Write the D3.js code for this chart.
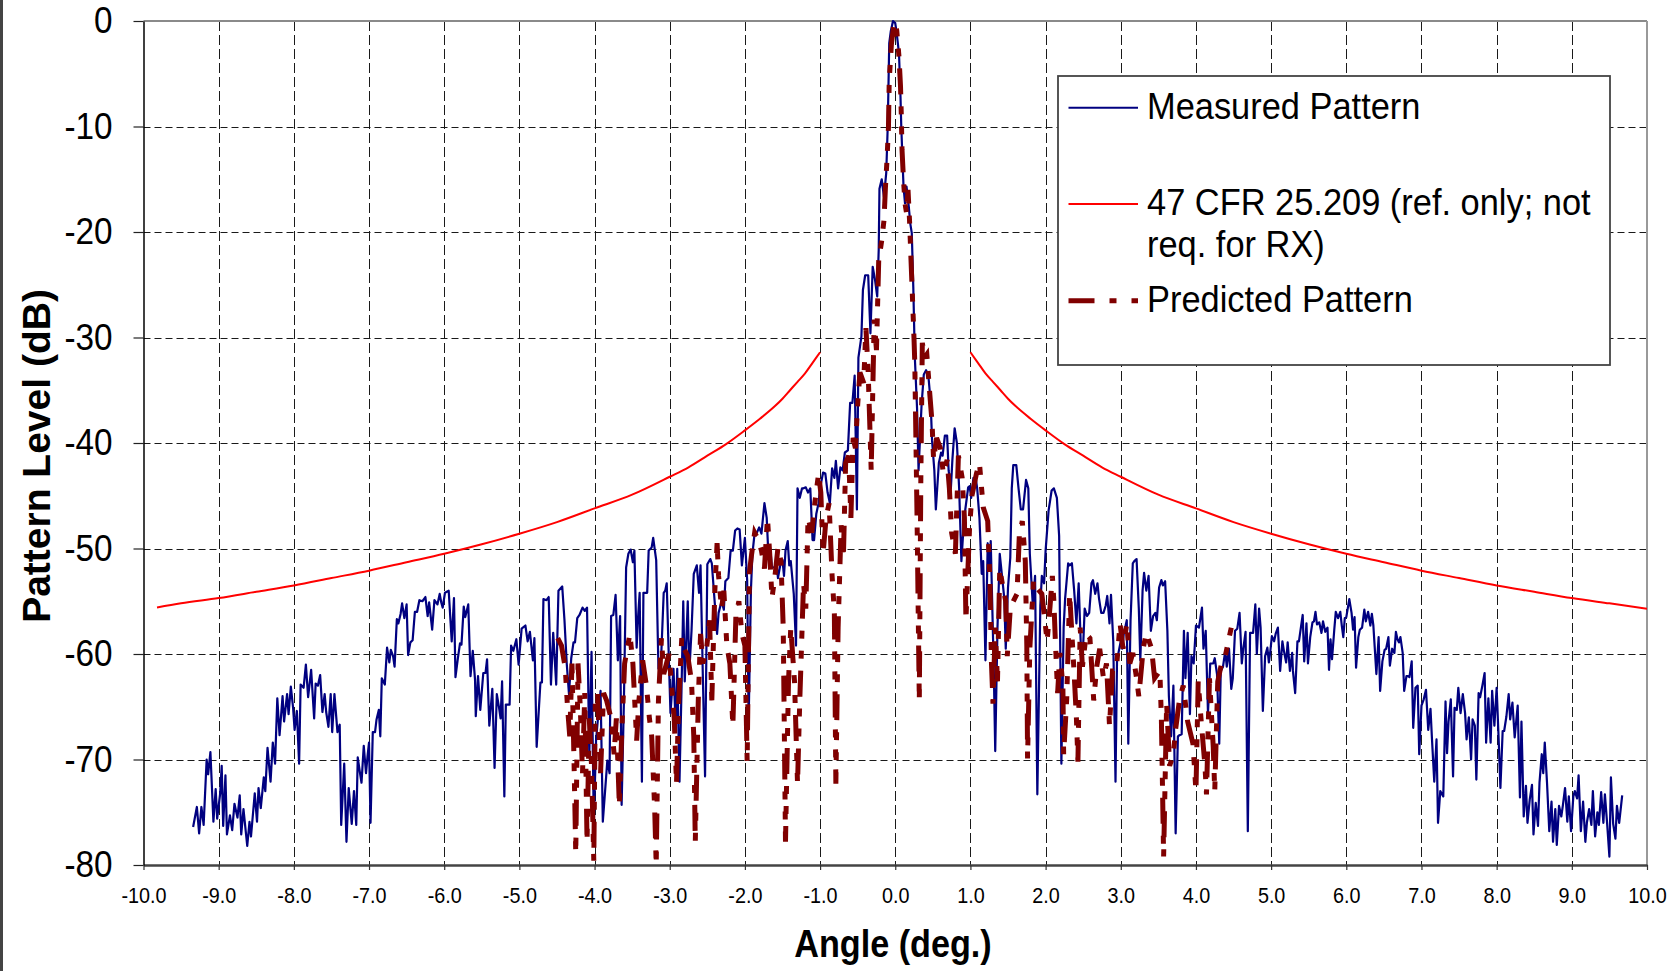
<!DOCTYPE html>
<html>
<head>
<meta charset="utf-8">
<script src="https://cdn.jsdelivr.net/npm/d3@7"></script>
<style>
body { margin: 0; background: #fff; }
svg { display: block; }
text { font-family: "Liberation Sans", Arial, sans-serif; fill: #000; }
</style>
</head>
<body>
<svg id="chart" width="1677" height="971"></svg>
<script>
// tick values
var xTicks = [-10,-9,-8,-7,-6,-5,-4,-3,-2,-1,0,1,2,3,4,5,6,7,8,9,10];
var yTicks = [0,-10,-20,-30,-40,-50,-60,-70,-80];

// measured pattern [angle deg, level dB]
var measuredPattern = [
	[-9.34,-76.4],[-9.29,-74.5],[-9.26,-77.0],[-9.23,-74.5],[-9.20,-76.2],[-9.16,-70.0],[-9.14,-71.4],[-9.11,-69.3],[-9.07,-75.9],[-9.04,-72.8],
	[-9.02,-75.6],[-8.98,-73.2],[-8.96,-70.6],[-8.94,-76.3],[-8.91,-71.5],[-8.89,-77.1],[-8.85,-75.3],[-8.82,-76.7],[-8.79,-74.2],[-8.75,-75.5],
	[-8.72,-73.4],[-8.70,-77.1],[-8.67,-74.7],[-8.62,-78.2],[-8.59,-75.9],[-8.57,-77.3],[-8.52,-73.2],[-8.49,-75.9],[-8.47,-72.7],[-8.44,-74.6],
	[-8.40,-71.7],[-8.38,-73.0],[-8.35,-68.9],[-8.31,-72.1],[-8.28,-68.4],[-8.25,-70.4],[-8.22,-64.2],[-8.19,-67.7],[-8.15,-64.0],[-8.13,-66.4],
	[-8.09,-63.8],[-8.07,-65.7],[-8.04,-63.1],[-8.01,-65.1],[-7.99,-67.2],[-7.96,-65.4],[-7.93,-70.4],[-7.91,-62.9],[-7.87,-63.2],[-7.84,-61.0],
	[-7.81,-64.1],[-7.77,-61.5],[-7.73,-66.1],[-7.71,-62.8],[-7.68,-63.0],[-7.65,-62.0],[-7.62,-65.5],[-7.59,-63.8],[-7.57,-65.5],[-7.54,-66.9],
	[-7.51,-63.8],[-7.49,-67.4],[-7.46,-63.8],[-7.42,-67.4],[-7.39,-66.7],[-7.37,-76.2],[-7.33,-70.4],[-7.30,-77.8],[-7.27,-72.7],[-7.23,-76.1],
	[-7.20,-73.0],[-7.17,-76.2],[-7.15,-69.8],[-7.12,-71.3],[-7.10,-72.2],[-7.07,-68.7],[-7.04,-71.3],[-7.02,-69.7],[-7.00,-68.4],[-6.98,-76.0],
	[-6.95,-67.4],[-6.92,-67.4],[-6.90,-66.2],[-6.87,-65.3],[-6.85,-67.8],[-6.83,-62.3],[-6.79,-62.9],[-6.76,-59.4],[-6.73,-60.8],[-6.71,-59.6],
	[-6.68,-60.2],[-6.66,-61.2],[-6.63,-56.7],[-6.61,-57.1],[-6.58,-56.2],[-6.56,-55.2],[-6.53,-56.6],[-6.50,-55.3],[-6.48,-60.1],[-6.45,-58.9],
	[-6.42,-58.7],[-6.39,-56.0],[-6.36,-56.0],[-6.33,-54.9],[-6.29,-55.0],[-6.25,-54.6],[-6.22,-56.4],[-6.20,-55.1],[-6.16,-57.7],[-6.13,-54.9],
	[-6.09,-55.3],[-6.06,-54.3],[-6.04,-55.1],[-6.02,-55.6],[-5.99,-54.2],[-5.94,-54.0],[-5.90,-58.8],[-5.87,-54.7],[-5.85,-62.2],[-5.82,-60.5],
	[-5.79,-59.0],[-5.77,-59.1],[-5.74,-55.5],[-5.72,-56.5],[-5.68,-55.3],[-5.65,-62.1],[-5.62,-59.7],[-5.59,-62.4],[-5.58,-65.9],[-5.55,-62.1],
	[-5.52,-65.3],[-5.48,-61.8],[-5.45,-61.8],[-5.43,-60.5],[-5.40,-66.8],[-5.36,-63.3],[-5.33,-70.8],[-5.30,-63.8],[-5.27,-65.1],[-5.25,-66.1],
	[-5.23,-62.6],[-5.20,-73.5],[-5.18,-64.8],[-5.13,-64.8],[-5.11,-59.2],[-5.08,-59.7],[-5.04,-58.6],[-5.01,-61.0],
	[-4.97,-57.6],[-4.92,-57.3],[-4.89,-58.8],[-4.86,-57.9],[-4.82,-60.6],[-4.80,-58.5],[-4.77,-68.8],[-4.72,-62.7],[-4.70,-62.7],[-4.68,-54.8],
	[-4.64,-54.9],[-4.61,-54.6],[-4.58,-62.9],[-4.55,-58.0],[-4.51,-62.9],[-4.48,-54.0],[-4.43,-53.6],[-4.40,-56.8],[-4.37,-60.9],[-4.34,-63.8],
	[-4.31,-60.4],[-4.28,-58.9],[-4.26,-58.9],[-4.23,-56.6],[-4.20,-56.3],[-4.16,-55.6],[-4.13,-55.9],[-4.10,-55.6],[-4.07,-69.5],[-4.04,-59.8],
	[-4.01,-76.1],[-3.98,-68.2],[-3.95,-65.7],[-3.92,-63.5],[-3.89,-75.9],[-3.86,-73.0],[-3.83,-70.1],[-3.80,-71.3],[-3.78,-56.4],[-3.75,-56.3],
	[-3.72,-54.4],[-3.69,-60.6],[-3.66,-56.4],[-3.64,-74.3],[-3.61,-64.7],[-3.58,-51.8],[-3.55,-50.5],[-3.52,-50.1],[-3.49,-51.3],[-3.47,-50.2],
	[-3.44,-59.4],[-3.42,-56.4],[-3.40,-54.2],[-3.37,-72.1],[-3.35,-54.2],[-3.30,-54.2],[-3.28,-50.2],[-3.24,-49.9],[-3.22,-49.0],[-3.18,-51.1],
	[-3.15,-61.4],[-3.12,-61.4],[-3.08,-54.2],[-3.06,-54.0],[-3.04,-53.3],[-3.01,-60.9],[-2.99,-65.6],[-2.95,-61.4],[-2.92,-66.9],[-2.90,-61.4],
	[-2.87,-72.1],[-2.84,-62.3],[-2.82,-55.0],[-2.80,-62.6],[-2.76,-55.0],[-2.74,-61.8],[-2.71,-57.8],[-2.68,-52.4],[-2.64,-51.6],[-2.61,-54.2],
	[-2.59,-51.6],[-2.56,-61.9],[-2.53,-71.6],[-2.50,-51.5],[-2.46,-51.0],[-2.44,-51.4],[-2.41,-54.3],[-2.37,-58.1],[-2.35,-56.1],[-2.31,-55.0],
	[-2.28,-55.8],[-2.26,-53.1],[-2.22,-52.8],[-2.19,-50.2],[-2.16,-50.2],[-2.13,-48.3],[-2.10,-48.1],[-2.07,-48.2],[-2.04,-51.6],[-2.00,-49.0],
	[-1.97,-53.0],[-1.95,-66.4],[-1.92,-54.0],[-1.90,-50.5],[-1.87,-48.5],[-1.84,-48.5],[-1.81,-48.0],[-1.78,-48.6],[-1.74,-45.7],[-1.71,-47.1],
	[-1.69,-50.2],[-1.66,-50.2],[-1.64,-51.8],[-1.61,-51.8],[-1.58,-51.4],[-1.56,-52.8],[-1.53,-51.6],[-1.50,-51.1],[-1.48,-52.6],[-1.46,-50.2],
	[-1.43,-49.3],[-1.41,-51.6],[-1.39,-51.2],[-1.35,-54.3],[-1.32,-59.2],[-1.30,-44.3],[-1.27,-45.2],[-1.24,-44.3],[-1.22,-44.3],[-1.19,-44.2],
	[-1.16,-44.7],[-1.13,-44.3],[-1.10,-49.2],[-1.08,-49.2],[-1.05,-46.7],[-1.02,-45.7],[-1.00,-44.3],[-0.96,-42.8],[-0.93,-42.9],[-0.90,-44.7],
	[-0.87,-45.7],[-0.84,-42.4],[-0.81,-43.3],[-0.79,-41.7],[-0.76,-44.3],[-0.73,-42.3],[-0.70,-42.6],[-0.67,-40.9],[-0.63,-40.7],[-0.60,-36.2],
	[-0.57,-36.2],[-0.54,-33.6],[-0.51,-46.3],[-0.49,-31.9],
	[-0.45,-29.9],[-0.43,-25.5],[-0.40,-24.1],[-0.36,-24.1],[-0.33,-29.6],[-0.30,-23.3],[-0.27,-24.5],[-0.24,-26.1],[-0.22,-21.7],[-0.21,-15.9],
	[-0.18,-15.0],[-0.15,-16.7],[-0.12,-14.4],[-0.10,-10.0],[-0.08,-2.1],[-0.06,-1.0],[-0.03,0.0],[0.00,-0.2],[0.02,-1.2],[0.05,-3.1],
	[0.07,-7.2],[0.08,-10.0],[0.11,-15.7],[0.13,-17.3],[0.15,-15.7],[0.18,-17.6],[0.20,-19.2],[0.22,-20.1],[0.24,-25.2],[0.26,-31.8],
	[0.29,-36.7],[0.31,-42.6],[0.33,-39.5],[0.35,-36.4],[0.38,-33.5],[0.41,-33.1],[0.44,-33.6],[0.47,-36.0],[0.49,-39.8],[0.52,-42.6],
	[0.54,-46.3],[0.58,-41.9],[0.61,-40.9],[0.63,-41.2],[0.66,-39.3],[0.69,-39.3],[0.71,-42.6],[0.74,-44.3],[0.76,-41.6],[0.79,-38.6],
	[0.82,-40.0],[0.85,-44.3],[0.88,-51.2],[0.91,-47.8],[0.93,-46.4],[0.97,-44.2],[0.99,-44.1],[1.01,-45.2],[1.04,-43.3],[1.07,-43.3],
	[1.09,-44.3],[1.12,-47.1],[1.15,-52.4],[1.17,-51.2],[1.20,-60.6],[1.23,-49.5],[1.25,-51.9],[1.27,-49.3],[1.31,-61.2],[1.33,-69.2],
	[1.36,-57.5],[1.39,-50.5],[1.42,-52.6],[1.45,-54.7],[1.47,-59.5],[1.50,-53.7],[1.53,-50.9],[1.55,-44.3],[1.57,-42.1],[1.61,-42.1],
	[1.64,-44.3],[1.67,-46.3],[1.70,-46.3],[1.74,-43.5],[1.77,-44.3],[1.79,-50.5],[1.83,-55.4],[1.86,-52.6],[1.89,-73.3],[1.93,-55.4],
	[1.95,-52.6],[1.98,-53.3],[2.00,-50.2],[2.04,-46.4],[2.08,-44.5],[2.11,-44.3],[2.15,-45.2],[2.18,-48.8],[2.21,-70.4],[2.24,-57.5],
	[2.26,-54.7],[2.30,-51.4],[2.32,-51.6],[2.35,-51.4],[2.38,-54.0],[2.41,-57.1],[2.44,-53.3],[2.47,-59.5],[2.49,-60.9],[2.52,-55.7],
	[2.55,-56.4],[2.58,-56.1],[2.61,-53.3],[2.63,-53.0],[2.66,-54.3],[2.69,-53.3],[2.71,-54.7],[2.74,-56.1],[2.77,-56.1],[2.80,-55.4],
	[2.82,-54.5],[2.85,-57.1],[2.87,-54.4],[2.90,-58.8],[2.93,-72.1],[2.95,-60.6],[2.98,-59.5],[3.00,-58.8],[3.02,-59.5],[3.04,-58.1],
	[3.08,-56.8],[3.10,-68.5],[3.13,-56.8],[3.16,-51.4],[3.18,-51.2],[3.21,-51.0],[3.24,-55.7],[3.26,-60.6],[3.29,-54.0],[3.31,-52.3],
	[3.34,-54.0],[3.37,-52.6],[3.40,-57.8],[3.43,-56.4],[3.46,-56.1],[3.48,-56.8],[3.51,-53.7],[3.54,-53.0],[3.56,-53.5],[3.59,-53.1],
	[3.62,-57.8],[3.64,-64.0],[3.67,-67.8],[3.70,-63.0],[3.73,-77.0],[3.76,-67.8],[3.78,-67.7],[3.81,-67.6],[3.84,-57.8],[3.86,-62.3],
	[3.89,-58.0],[3.92,-65.7],[3.94,-60.2],[3.97,-60.9],[4.00,-57.3],[4.04,-57.5],[4.08,-55.6],[4.10,-59.5],[4.13,-57.8],[4.16,-65.6],
	[4.19,-60.9],[4.23,-60.9],[4.25,-60.4],[4.28,-61.9],[4.31,-68.5],[4.33,-61.6],[4.36,-61.2],[4.39,-59.7],[4.41,-61.2],[4.44,-59.5],
	[4.47,-63.3],[4.49,-62.3],[4.52,-57.8],[4.55,-57.6],[4.58,-56.1],[4.61,-60.9],[4.63,-59.5],[4.66,-57.9],[4.69,-76.8],[4.72,-58.0],
	[4.76,-58.0],[4.79,-55.3],[4.81,-60.0],[4.84,-55.7],[4.86,-57.5],[4.89,-65.4],
	[4.92,-60.2],[4.95,-59.4],[4.97,-60.8],[4.99,-59.7],[5.01,-58.3],[5.04,-58.8],[5.06,-58.1],[5.09,-57.5],[5.12,-61.6],[5.15,-58.8],
	[5.17,-59.7],[5.20,-60.8],[5.22,-58.9],[5.25,-61.6],[5.28,-59.9],[5.29,-61.6],[5.32,-63.7],[5.35,-58.8],[5.37,-58.8],[5.40,-57.3],
	[5.42,-56.3],[5.44,-60.7],[5.47,-57.1],[5.49,-60.9],[5.52,-58.4],[5.55,-57.0],[5.57,-56.9],[5.59,-56.0],[5.61,-57.2],[5.64,-57.0],
	[5.67,-58.0],[5.69,-56.9],[5.72,-57.9],[5.75,-57.5],[5.77,-61.5],[5.79,-58.6],[5.81,-60.5],[5.84,-57.7],[5.86,-56.0],[5.89,-56.6],
	[5.92,-56.0],[5.94,-57.3],[5.96,-58.4],[5.98,-56.6],[6.00,-56.5],[6.04,-54.8],[6.07,-56.1],[6.09,-57.7],[6.11,-56.5],[6.13,-61.3],
	[6.16,-58.4],[6.18,-57.7],[6.21,-57.5],[6.24,-55.8],[6.26,-56.9],[6.29,-56.0],[6.32,-57.3],[6.34,-56.2],[6.36,-57.3],[6.40,-61.9],
	[6.43,-58.4],[6.45,-63.5],[6.48,-60.7],[6.51,-59.6],[6.53,-59.5],[6.56,-58.4],[6.58,-61.1],[6.61,-59.5],[6.64,-59.9],[6.66,-57.9],
	[6.68,-58.6],[6.70,-58.9],[6.72,-58.4],[6.75,-59.9],[6.77,-63.5],[6.80,-62.1],[6.82,-62.1],[6.84,-62.2],[6.87,-60.7],[6.89,-67.0],
	[6.92,-63.2],[6.95,-63.0],[6.97,-69.5],[7.00,-64.9],[7.03,-64.3],[7.06,-63.4],[7.09,-67.2],[7.12,-65.2],[7.14,-68.1],[7.17,-72.1],
	[7.20,-68.1],[7.22,-76.0],[7.25,-73.0],[7.29,-73.5],[7.32,-64.5],[7.34,-69.4],[7.36,-66.4],[7.39,-64.3],[7.42,-71.6],[7.44,-65.1],
	[7.47,-65.3],[7.49,-63.2],[7.52,-65.6],[7.55,-63.8],[7.58,-65.6],[7.60,-68.1],[7.63,-66.0],[7.66,-70.0],[7.68,-66.2],[7.71,-66.8],
	[7.73,-71.9],[7.76,-63.7],[7.78,-64.1],[7.81,-63.0],[7.84,-61.8],[7.86,-68.4],[7.89,-64.2],[7.92,-68.4],[7.94,-63.5],[7.97,-66.8],
	[8.00,-63.2],[8.03,-68.7],[8.05,-72.7],[8.08,-67.3],[8.10,-67.3],[8.13,-65.9],[8.16,-63.8],[8.18,-66.2],[8.21,-64.6],[8.24,-67.9],
	[8.26,-66.4],[8.28,-64.9],[8.31,-73.6],[8.33,-66.4],[8.36,-75.4],[8.39,-72.5],[8.41,-76.0],[8.44,-73.8],[8.47,-72.4],[8.49,-77.1],
	[8.52,-74.1],[8.55,-76.3],[8.57,-72.2],[8.60,-69.5],[8.62,-71.3],[8.64,-68.4],[8.67,-72.2],[8.70,-76.8],[8.73,-74.0],[8.75,-77.8],
	[8.78,-74.7],[8.80,-78.1],[8.83,-74.4],[8.86,-75.4],[8.88,-74.4],[8.91,-72.7],[8.94,-75.9],[8.96,-73.5],[8.99,-76.8],[9.02,-73.5],
	[9.04,-73.0],[9.07,-73.7],[9.09,-71.5],[9.12,-76.8],[9.15,-74.0],[9.18,-77.8],[9.20,-76.0],[9.23,-74.7],[9.26,-76.2],[9.28,-73.0],
	[9.31,-77.3],[9.34,-75.0],[9.36,-76.2],[9.39,-73.1],[9.42,-76.0],[9.44,-73.3],[9.47,-76.1],[9.50,-79.2],[9.52,-71.7],[9.55,-76.1],
	[9.58,-77.5],[9.60,-74.4],[9.63,-76.0],[9.67,-73.4]
];

// predicted pattern [angle deg, level dB]
var predictedPattern = [
	[-4.49,-58.5],[-4.44,-59.2],[-4.39,-61.3],[-4.36,-65.0],[-4.33,-67.8],[-4.30,-60.9],[-4.27,-71.3],[-4.25,-78.9],[-4.22,-60.9],[-4.19,-65.0],
	[-4.16,-71.3],[-4.13,-63.7],[-4.10,-77.8],[-4.07,-66.1],[-4.04,-70.6],[-4.01,-79.6],[-3.99,-64.4],[-3.96,-63.7],[-3.92,-71.3],[-3.88,-63.7],
	[-3.84,-64.4],[-3.78,-66.1],[-3.74,-69.5],[-3.71,-66.1],[-3.67,-74.4],[-3.64,-67.8],[-3.60,-60.9],[-3.53,-58.1],[-3.49,-60.9],[-3.44,-68.2],
	[-3.41,-64.4],[-3.36,-60.6],[-3.31,-63.0],[-3.27,-66.1],[-3.24,-67.8],[-3.20,-74.7],[-3.18,-80.0],[-3.15,-64.4],[-3.11,-58.5],[-3.08,-61.9],
	[-3.01,-60.0],[-2.98,-62.6],[-2.94,-66.1],[-2.91,-72.3],[-2.88,-64.4],[-2.84,-58.5],[-2.81,-59.5],[-2.76,-60.2],[-2.71,-62.6],[-2.68,-67.8],
	[-2.66,-77.8],[-2.62,-64.4],[-2.59,-58.1],[-2.56,-60.9],[-2.51,-59.5],[-2.47,-56.8],[-2.44,-64.4],[-2.40,-54.0],[-2.37,-49.5],[-2.35,-52.6],
	[-2.31,-55.7],[-2.28,-54.0],[-2.24,-59.2],[-2.20,-60.9],[-2.16,-66.8],[-2.12,-56.4],[-2.08,-55.0],[-2.04,-58.1],[-2.00,-59.2],[-1.97,-70.2],
	[-1.94,-52.3],[-1.91,-50.5],[-1.87,-48.5],[-1.82,-49.2],[-1.78,-50.2],[-1.74,-51.9],[-1.70,-47.1],[-1.67,-50.5],[-1.64,-54.7],[-1.60,-52.6],
	[-1.56,-49.9],[-1.52,-51.2],[-1.49,-57.5],[-1.46,-77.8],[-1.42,-62.6],[-1.39,-57.5],[-1.34,-62.6],[-1.30,-72.3],[-1.27,-64.4],[-1.22,-53.3],
	[-1.19,-55.7],[-1.16,-47.1],[-1.11,-48.5],[-1.07,-45.7],[-1.02,-42.9],[-0.99,-44.7],[-0.96,-50.5],[-0.92,-47.1],[-0.88,-45.7],[-0.84,-52.6],
	[-0.81,-56.1],[-0.79,-72.3],[-0.76,-57.5],[-0.72,-47.8],[-0.69,-50.9],[-0.66,-41.9],[-0.62,-41.2],[-0.59,-47.1],[-0.56,-39.5],[-0.53,-40.5],
	[-0.50,-36.4],[-0.47,-33.3],[-0.42,-34.3],[-0.39,-29.1],[-0.36,-33.3],[-0.32,-42.6],[-0.28,-28.3],[-0.25,-31.2],[-0.22,-22.7],[-0.18,-20.8],
	[-0.15,-18.9],[-0.13,-15.7],[-0.11,-13.2],[-0.09,-10.0],[-0.08,-5.6],[-0.05,-2.1],[-0.02,-0.4],[0.00,-0.1],[0.02,-0.9],[0.05,-3.4],
	[0.07,-6.2],[0.08,-8.8],[0.09,-12.2],[0.11,-15.1],[0.13,-17.3],[0.15,-18.2],[0.17,-16.0],[0.19,-18.9],[0.21,-22.7],[0.23,-26.4],
	[0.25,-30.2],[0.26,-32.4],[0.29,-47.1],[0.32,-64.4],[0.34,-43.6],[0.36,-30.5],[0.39,-31.9],[0.42,-31.6],[0.46,-35.4],[0.49,-38.1],
	[0.51,-41.6],[0.55,-39.5],[0.60,-40.5],[0.64,-42.9],[0.69,-41.6],[0.72,-44.3],[0.75,-48.5],[0.80,-50.5],[0.84,-41.2],[0.89,-43.3],
	[0.92,-47.1],[0.94,-56.8],[0.99,-47.8],[1.02,-45.0],[1.08,-42.9],[1.12,-41.9],[1.17,-46.1],[1.23,-47.4],[1.26,-53.3],[1.28,-60.9],
	[1.30,-64.7],[1.33,-57.5],[1.36,-62.6],[1.39,-51.9],[1.44,-54.0],[1.47,-55.0],[1.49,-60.2],[1.53,-55.7],[1.57,-55.0],[1.62,-54.3],
	[1.65,-48.8],[1.69,-47.4],[1.73,-51.2],[1.75,-59.2],[1.76,-69.9],[1.79,-59.5],[1.84,-53.0],[1.88,-53.7],[1.95,-54.3],[1.99,-56.8],
	[2.02,-58.8],[2.06,-55.4],[2.09,-52.6],[2.11,-55.0],[2.13,-58.8],[2.16,-63.7],[2.19,-59.9],[2.23,-63.0],[2.24,-69.5],[2.28,-64.4],
	[2.32,-54.3],[2.35,-58.1],[2.38,-61.9],[2.41,-66.1],[2.43,-70.2],[2.46,-57.5],[2.49,-61.2],[2.54,-58.1],[2.59,-58.5],[2.64,-64.4],
	[2.68,-61.2],[2.72,-59.5],[2.77,-62.3],[2.81,-60.9],[2.85,-66.8],[2.89,-61.6],[2.94,-61.6],[2.99,-57.1],[3.03,-59.5],[3.08,-57.1],
	[3.12,-60.9],[3.16,-59.9],[3.21,-62.3],[3.24,-64.0],[3.30,-59.4],[3.34,-58.0],[3.41,-59.5],[3.45,-62.3],[3.52,-61.6],[3.54,-66.1],
	[3.57,-79.2],[3.61,-64.7],[3.65,-70.6],[3.70,-69.5],[3.73,-67.1],[3.78,-64.4],[3.83,-63.0],[3.89,-66.4],[3.96,-68.5],[4.00,-73.0],
	[4.03,-62.6],[4.07,-66.4],[4.12,-70.6],[4.14,-73.3],[4.18,-62.3],[4.23,-68.8],[4.25,-73.0],[4.29,-62.6],[4.34,-60.9],[4.38,-60.6],
	[4.43,-58.8],[4.47,-57.5],[4.50,-57.8]
];

// 47 CFR 25.209 envelope, two branches
var cfrLeftAngle = [-9.82,-9.5,-9.0,-8.5,-8.0,-7.5,-7.0,-6.5,-6.0,-5.5,-5.0,-4.5,-4.0,-3.5,-3.0,-2.75,-2.5,-2.25,-2.0,-1.8,-1.6,-1.5,-1.4,-1.3,-1.2,-1.1,-1.0];
var cfrLeftLevel = [-55.6,-55.2,-54.7,-54.1,-53.5,-52.8,-52.1,-51.3,-50.5,-49.6,-48.6,-47.5,-46.2,-44.9,-43.2,-42.3,-41.2,-40.1,-38.8,-37.7,-36.5,-35.8,-35.0,-34.2,-33.4,-32.4,-31.4];
var cfrRightAngle = [1.0,1.1,1.2,1.3,1.4,1.5,1.6,1.8,2.0,2.25,2.5,2.75,3.0,3.5,4.0,4.5,5.0,5.5,6.0,6.5,7.0,7.5,8.0,8.5,9.0,9.5,10.0];
var cfrRightLevel = [-31.4,-32.4,-33.4,-34.2,-35.0,-35.8,-36.5,-37.7,-38.8,-40.1,-41.2,-42.3,-43.2,-44.9,-46.2,-47.5,-48.6,-49.6,-50.5,-51.3,-52.1,-52.8,-53.5,-54.1,-54.7,-55.2,-55.7];

var legendLabels = [["Measured Pattern"], ["47 CFR 25.209 (ref. only; not", "req. for RX)"], ["Predicted Pattern"]];

var W = 1677, H = 971;
var plotLeft = 143.5, plotRight = 1647, plotTop = 21, plotBottom = 865;

var x = d3.scaleLinear().domain([-10, 10]).range([plotLeft, plotRight]);
var y = d3.scaleLinear().domain([-80, 0]).range([plotBottom, plotTop]);

var svg = d3.select("#chart");
svg.append("rect").attr("width", W).attr("height", H).attr("fill", "#fff");
svg.append("line").attr("x1", 1.5).attr("x2", 1.5).attr("y1", 0).attr("y2", H)
	.attr("stroke", "#444").attr("stroke-width", 3);

svg.append("defs").append("clipPath").attr("id", "plotclip")
	.append("rect").attr("x", plotLeft).attr("y", plotTop - 3)
	.attr("width", plotRight - plotLeft).attr("height", plotBottom - plotTop + 3);

// grid
var grid = svg.append("g").attr("stroke", "#1a1a1a").attr("stroke-width", 1);
grid.selectAll("line.h").data(yTicks.filter(function(d) { return d > -80 && d < 0; }))
	.enter().append("line")
	.attr("x1", plotLeft).attr("x2", plotRight)
	.attr("y1", function(d) { return Math.round(y(d)) + 0.5; })
	.attr("y2", function(d) { return Math.round(y(d)) + 0.5; })
	.attr("stroke-dasharray", "7,4");
grid.selectAll("line.v").data(xTicks.filter(function(d) { return d > -10 && d < 10; }))
	.enter().append("line")
	.attr("x1", function(d) { return Math.round(x(d)) + 0.5; })
	.attr("x2", function(d) { return Math.round(x(d)) + 0.5; })
	.attr("y1", plotTop).attr("y2", plotBottom)
	.attr("stroke-dasharray", "10,4");

// frame top / right
svg.append("line").attr("x1", plotLeft).attr("x2", plotRight).attr("y1", plotTop).attr("y2", plotTop)
	.attr("stroke", "#8a8a8a").attr("stroke-width", 2);
svg.append("line").attr("x1", plotRight).attr("x2", plotRight).attr("y1", plotTop).attr("y2", plotBottom)
	.attr("stroke", "#999").attr("stroke-width", 2);

var plot = svg.append("g").attr("clip-path", "url(#plotclip)");

var line = d3.line().x(function(d) { return x(d[0]); }).y(function(d) { return y(d[1]); });
var cfrLine = d3.line().curve(d3.curveMonotoneX)
	.x(function(d) { return x(d[0]); }).y(function(d) { return y(d[1]); });

var cfrLeft = cfrLeftAngle.map(function(a, i) { return [a, cfrLeftLevel[i]]; });
var cfrRight = cfrRightAngle.map(function(a, i) { return [a, cfrRightLevel[i]]; });

plot.append("path").datum(measuredPattern).attr("d", line)
	.attr("fill", "none").attr("stroke", "#000080").attr("stroke-width", 2.2)
	.attr("stroke-linejoin", "round");

plot.selectAll("path.cfr").data([cfrLeft, cfrRight]).enter().append("path")
	.attr("class", "cfr").attr("d", cfrLine)
	.attr("fill", "none").attr("stroke", "#ff0000").attr("stroke-width", 2);

plot.append("path").datum(predictedPattern).attr("d", line)
	.attr("fill", "none").attr("stroke", "#800000").attr("stroke-width", 5)
	.attr("stroke-dasharray", "26,12,8,12,8,12");

// axes
var xAxis = d3.axisBottom(x).tickValues(xTicks).tickSize(5).tickSizeOuter(0).tickPadding(17)
	.tickFormat(function(d) { return d.toFixed(1); });
var gx = svg.append("g").attr("transform", "translate(0," + plotBottom + ")").call(xAxis);
gx.attr("font-family", null).attr("font-size", null);
gx.select(".domain").attr("stroke", "#444").attr("stroke-width", 2.5);
gx.selectAll(".tick line").attr("stroke", "#333").attr("stroke-width", 1.2);
gx.selectAll(".tick text").attr("font-size", 22).attr("fill", "#000")
	.attr("transform", "scale(0.9,1)");

var yAxis = d3.axisLeft(y).tickValues(yTicks).tickSize(10).tickSizeOuter(0)
	.tickFormat(function(d) { return String(d); });
var gy = svg.append("g").attr("transform", "translate(" + plotLeft + ",0)").call(yAxis);
gy.attr("font-family", null).attr("font-size", null);
gy.select(".domain").attr("stroke", "#000").attr("stroke-width", 1.5);
gy.selectAll(".tick line").attr("stroke", "#222").attr("stroke-width", 1.2);
gy.selectAll(".tick text").attr("x", 0).attr("font-size", 37).attr("fill", "#000")
	.attr("transform", "translate(-31,0) scale(0.9,1)");

// titles
svg.append("text").attr("transform", "translate(893,957) scale(0.9,1)")
	.attr("text-anchor", "middle").attr("font-weight", "bold").attr("font-size", 38)
	.text("Angle (deg.)");
svg.append("text").attr("transform", "translate(49.5,456) rotate(-90)")
	.attr("text-anchor", "middle").attr("font-weight", "bold").attr("font-size", 39)
	.text("Pattern Level (dB)");

// legend
var legendStyle = [
	{ stroke: "#000080", width: 2, dash: null },
	{ stroke: "#ff0000", width: 2, dash: null },
	{ stroke: "#800000", width: 5, dash: "26,15,7,15,7,15" }
];
var legendRowY = [107.7, 204, 300.7];
var lg = svg.append("g");
lg.append("rect").attr("x", 1058).attr("y", 76).attr("width", 552).attr("height", 289)
	.attr("fill", "#fff").attr("stroke", "#444").attr("stroke-width", 1.8);
var rows = lg.selectAll("g.row").data(legendLabels).enter().append("g").attr("class", "row")
	.attr("transform", function(d, i) { return "translate(0," + legendRowY[i] + ")"; });
rows.append("line").attr("x1", 1068.5).attr("x2", 1138).attr("y1", 0).attr("y2", 0)
	.attr("stroke", function(d, i) { return legendStyle[i].stroke; })
	.attr("stroke-width", function(d, i) { return legendStyle[i].width; })
	.attr("stroke-dasharray", function(d, i) { return legendStyle[i].dash; });
rows.each(function(d) {
	var g = d3.select(this);
	d.forEach(function(t, j) {
		g.append("text").attr("transform", "translate(1147," + (10.8 + j * 42.5) + ") scale(0.93,1)")
			.attr("font-size", 37).text(t);
	});
});
</script>
</body>
</html>
